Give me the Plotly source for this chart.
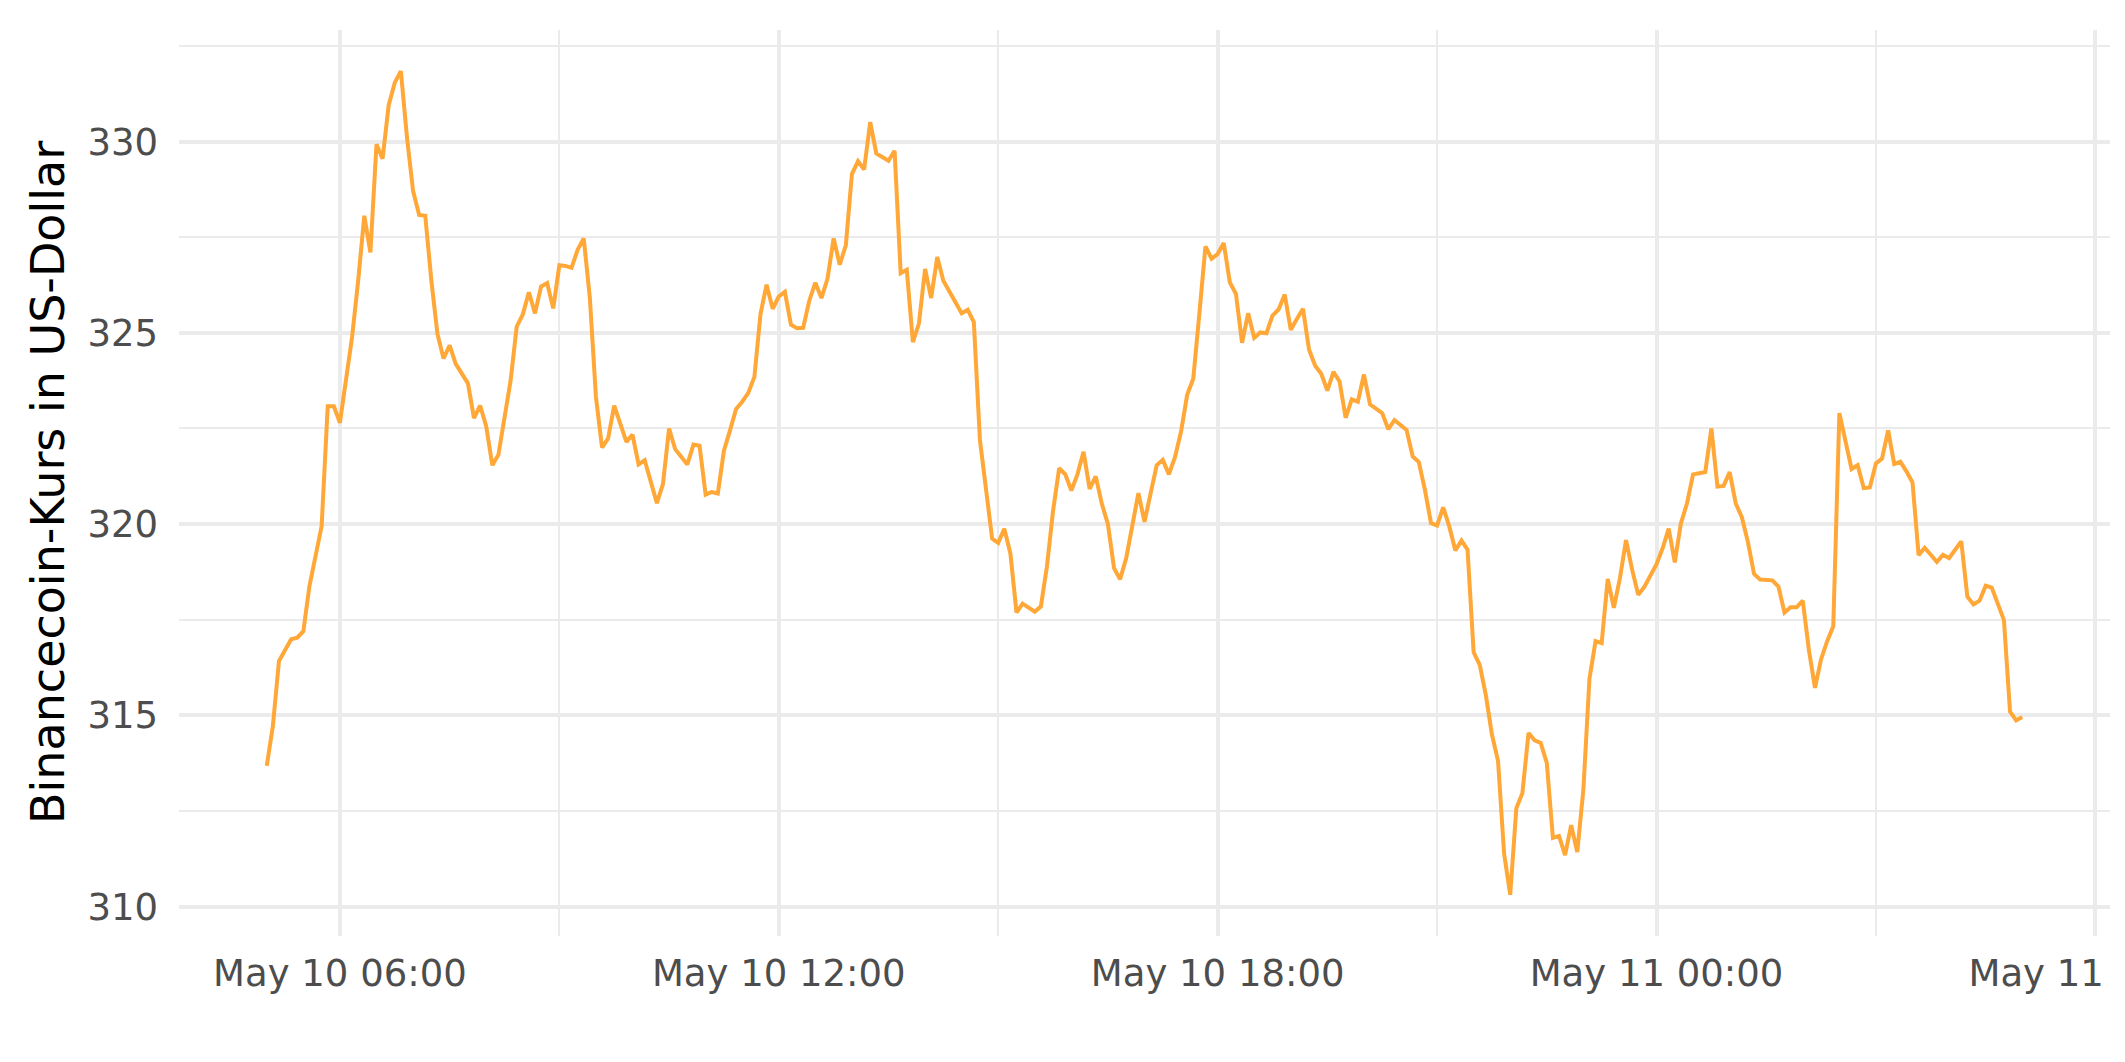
import pandas as pd
import plotly.graph_objects as go

# ---- data (5-minute BNB prices) ----
start_time = "2023-05-10 05:00"
interval = "5min"
prices = [
    313.68, 314.72, 316.42, 316.70, 316.99, 317.03, 317.20, 318.38, 319.14, 319.95,
    323.08, 323.08, 322.65, 323.75, 324.90, 326.37, 328.06, 327.10, 329.93, 329.55,
    330.95, 331.54, 331.84, 330.11, 328.71, 328.08, 328.06, 326.37, 324.97, 324.33,
    324.67, 324.19, 323.94, 323.68, 322.77, 323.10, 322.56, 321.54, 321.81, 322.77,
    323.75, 325.16, 325.48, 326.06, 325.51, 326.21, 326.30, 325.64, 326.77, 326.75,
    326.70, 327.17, 327.47, 325.92, 323.33, 322.00, 322.24, 323.10, 322.63, 322.15,
    322.34, 321.56, 321.67, 321.10, 320.55, 321.05, 322.50, 321.96, 321.75, 321.56,
    322.08, 322.05, 320.77, 320.84, 320.80, 321.92, 322.45, 323.01, 323.20, 323.43,
    323.85, 325.49, 326.26, 325.63, 325.95, 326.07, 325.21, 325.12, 325.13, 325.84,
    326.31, 325.91, 326.42, 327.47, 326.78, 327.29, 329.15, 329.49, 329.27, 330.51,
    329.69, 329.58, 329.50, 329.76, 326.56, 326.65, 324.76, 325.25, 326.67, 325.91,
    326.98, 326.36, 326.08, 325.77, 325.51, 325.60, 325.28, 322.20, 320.96, 319.62,
    319.51, 319.88, 319.23, 317.69, 317.92, 317.82, 317.71, 317.85, 318.90, 320.35,
    321.46, 321.30, 320.88, 321.30, 321.89, 320.92, 321.25, 320.53, 320.00, 318.85,
    318.56, 319.11, 319.95, 320.81, 320.06, 320.85, 321.54, 321.68, 321.30, 321.75,
    322.42, 323.38, 323.80, 325.50, 327.26, 326.94, 327.06, 327.35, 326.32, 326.02,
    324.74, 325.51, 324.87, 325.01, 324.99, 325.45, 325.61, 326.00, 325.08, 325.36,
    325.63, 324.56, 324.14, 323.93, 323.49, 323.98, 323.73, 322.78, 323.26, 323.20,
    323.91, 323.13, 323.01, 322.90, 322.48, 322.72, 322.59, 322.46, 321.77, 321.62,
    320.90, 320.03, 319.96, 320.44, 319.94, 319.31, 319.57, 319.33, 316.65, 316.32,
    315.53, 314.50, 313.81, 311.38, 310.31, 312.57, 312.97, 314.54, 314.35, 314.28,
    313.76, 311.80, 311.85, 311.35, 312.13, 311.43, 313.06, 315.96, 316.94, 316.89,
    318.57, 317.81, 318.59, 319.58, 318.81, 318.15, 318.36, 318.67, 318.95, 319.37,
    319.88, 319.00, 320.02, 320.54, 321.30, 321.33, 321.36, 322.50, 320.98, 321.00,
    321.36, 320.54, 320.18, 319.53, 318.70, 318.55, 318.54, 318.53, 318.37, 317.69,
    317.83, 317.83, 318.00, 316.71, 315.72, 316.47, 316.94, 317.33, 322.90, 322.17,
    321.44, 321.54, 320.94, 320.96, 321.59, 321.71, 322.45, 321.57, 321.63, 321.38,
    321.09, 319.19, 319.38, 319.20, 319.01, 319.20, 319.11, 319.33, 319.55, 318.10,
    317.90, 318.00, 318.39, 318.34, 317.93, 317.49, 315.10, 314.87, 314.96,
]
times = pd.date_range(start=start_time, periods=len(prices), freq=interval)

x_major_ticks = ["2023-05-10 06:00", "2023-05-10 12:00", "2023-05-10 18:00",
                 "2023-05-11 00:00", "2023-05-11 06:00"]
x_major_labels = ["May 10 06:00", "May 10 12:00", "May 10 18:00",
                  "May 11 00:00", "May 11 06:00"]
x_minor_ticks = ["2023-05-10 03:00", "2023-05-10 09:00", "2023-05-10 15:00",
                 "2023-05-10 21:00", "2023-05-11 03:00"]
y_major_ticks = [310, 315, 320, 325, 330]
y_minor_ticks = [312.5, 317.5, 322.5, 327.5, 332.5]
y_title = "Binancecoin-Kurs in US-Dollar"

# ---- figure ----
GRID = "#EBEBEB"
TICK_COLOR = "#4D4D4D"
FONT = "DejaVu Sans"

fig = go.Figure()
fig.add_trace(go.Scatter(
    x=times, y=prices, mode="lines",
    line=dict(color="#FFA737", width=4),
    hoverinfo="skip", showlegend=False,
))

# ggplot-like 5% expansion of the data range
t0, t1 = times[0], times[-1]
tpad = (t1 - t0) * 0.05
ymin, ymax = min(prices), max(prices)
ypad = (ymax - ymin) * 0.05

fig.update_layout(
    width=2125, height=1062,
    margin=dict(l=171, r=23, t=22, b=134, autoexpand=False),
    paper_bgcolor="white", plot_bgcolor="white",
    font=dict(family=FONT, color=TICK_COLOR, size=37),
    xaxis=dict(
        type="date",
        range=[t0 - tpad, t1 + tpad],
        tickvals=x_major_ticks, ticktext=x_major_labels,
        showgrid=True, gridcolor=GRID, gridwidth=4,
        zeroline=False, showline=False, ticks="",
        tickfont=dict(family=FONT, size=37, color=TICK_COLOR),
        ticklabelstandoff=12,
        ticklabeloverflow="allow",
        automargin=False,
        minor=dict(tickvals=x_minor_ticks, showgrid=True, gridcolor=GRID, gridwidth=2.2, ticks=""),
    ),
    yaxis=dict(
        range=[ymin - ypad, ymax + ypad],
        tickvals=y_major_ticks,
        showgrid=True, gridcolor=GRID, gridwidth=4,
        zeroline=False, showline=False, ticks="",
        tickfont=dict(family=FONT, size=37, color=TICK_COLOR),
        ticklabelstandoff=20,
        automargin=False,
        minor=dict(tickvals=y_minor_ticks, showgrid=True, gridcolor=GRID, gridwidth=2.2, ticks=""),
    ),
    annotations=[dict(
        text=y_title, textangle=-90,
        xref="paper", yref="paper", x=(40 - 171) / (2125 - 171 - 23), y=0.5,
        xanchor="center", yanchor="middle", showarrow=False,
        font=dict(family=FONT, size=46, color="black"),
    )],
)

fig.write_html("out.html")
